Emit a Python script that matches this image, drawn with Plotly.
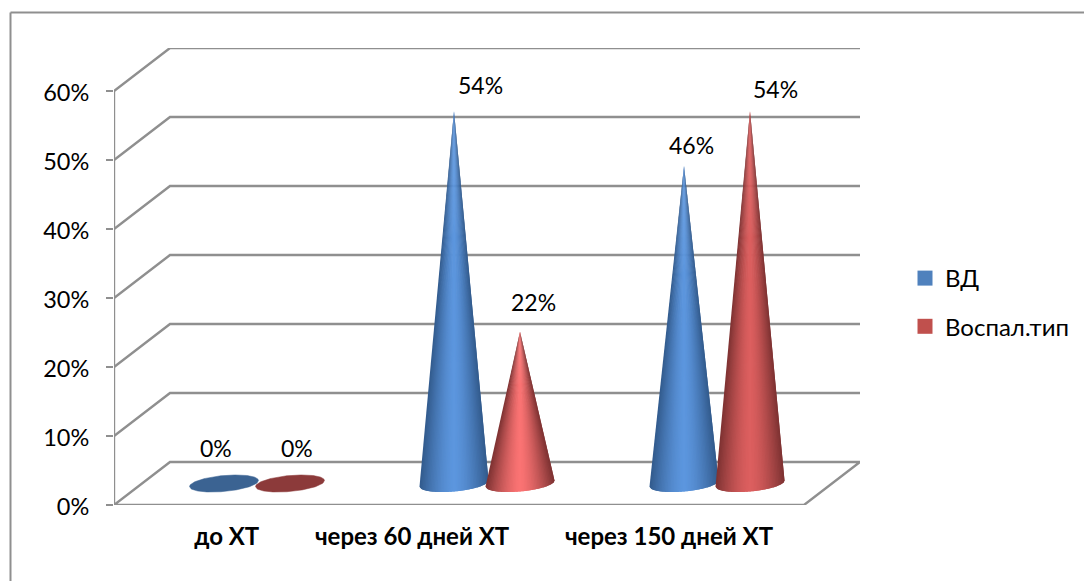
import plotly.graph_objects as go

categories = ["до ХТ", "через 60 дней ХТ", "через 150 дней ХТ"]
series_names = ["ВД", "Воспал.тип"]
vd_values = [0, 54, 46]
vosp_values = [0, 22, 54]
y_ticks = [0, 10, 20, 30, 40, 50, 60]

FONT = "Lato, Carlito, 'Noto Sans', sans-serif"
GRID = "#8f8f8f"
W, H = 1084, 581
L, R, T, B = 114, 860, 48, 505
PX_X = 230.0
PX_Y = 6.9
X_MIN = -0.5
X_MAX = X_MIN + (R - L) / PX_X
Y_MAX = (B - T) / PX_Y
X_FRONT_END = 2.5
DX = 56 / PX_X
DV = 43 / PX_Y
SERIES_OFF = 33 / PX_X
A = 34.5 / PX_X
BB = 8 / PX_Y
TILT = 3 / PX_Y
TICK_LABEL_X = [-0.01, 0.796, 1.913]
STYLE = {
    0: dict(edge=(50, 90, 140), mid=(92, 150, 222), flat="#3b6392", legend="#4f81bd"),
    1: dict(edge=(125, 50, 50), mid=(220, 95, 95), flat="#8c3a3a", legend="#c0504d"),
}
SHORT_RED_MID = (250, 115, 115)
LABEL_SHIFT = {
    (0, 0): (-8, 36), (0, 1): (7, 36), (1, 0): (26, 26), (1, 1): (13, 30),
    (2, 0): (7, 21), (2, 1): (25, 22),
}

fig = go.Figure()

def line(xs, ys):
    fig.add_trace(go.Scatter(x=xs, y=ys, mode="lines", line=dict(color=GRID, width=2.4),
                             cliponaxis=False, hoverinfo="skip", showlegend=False))

# walls and floor
for v in y_ticks[1:]:
    line([X_MIN, X_MIN + DX, X_MAX], [v, v + DV, v + DV])
line([X_MIN, X_MIN], [0, 60])
line([X_MIN, X_MIN + DX, X_MAX, X_FRONT_END, X_MIN], [0, DV, DV, 0, 0])

def lerp(c1, c2, f):
    return "rgb(%d,%d,%d)" % tuple(round(a + (b - a) * f) for a, b in zip(c1, c2))

N = 46
def cone(cat, ser, value):
    cx = cat + (2 * ser - 1) * SERIES_OFF + DX / 2
    cv = DV / 2
    st = STYLE[ser]
    if value == 0:
        xs, ys = [], []
        for i in range(N * 2 + 1):
            u = -1 + 2 * i / (N * 2)
            xs.append(cx + A * u)
            ys.append(cv + TILT * u - BB * (1 - u * u) ** 0.5)
        for i in range(N * 2 + 1):
            u = 1 - 2 * i / (N * 2)
            xs.append(cx + A * u)
            ys.append(cv + TILT * u + BB * (1 - u * u) ** 0.5)
        fig.add_trace(go.Scatter(x=xs, y=ys, mode="lines", fill="toself", fillcolor=st["flat"],
                                 line=dict(color=st["flat"], width=0.5), hoverinfo="skip", showlegend=False))
        return
    mid = SHORT_RED_MID if ser == 1 and value < 30 else st["mid"]
    ax, av = cx, value + cv
    for i in range(N):
        u0 = -1 + 2 * i / N
        u1 = min(1.0, -1 + 2 * (i + 2) / N)
        uc = -1 + 2 * (i + 0.5) / N
        col = lerp(mid, st["edge"], abs(uc) ** 1.5)
        us = [u0 + (u1 - u0) * k / 4 for k in range(5)]
        xs = [ax] + [cx + A * u for u in us] + [ax]
        ys = [av] + [cv + TILT * u - BB * max(0.0, 1 - u * u) ** 0.5 for u in us] + [av]
        fig.add_trace(go.Scatter(
            x=xs, y=ys,
            mode="lines", fill="toself", fillcolor=col, line=dict(width=0),
            hoverinfo="skip", showlegend=False))

for ser, vals in enumerate([vd_values, vosp_values]):
    for cat, v in enumerate(vals):
        cone(cat, ser, v)

# legend entries
for ser, name in enumerate(series_names):
    fig.add_trace(go.Scatter(x=[None], y=[None], mode="markers", name=name, legendgroup=name,
                             marker=dict(symbol="square", size=15, color=STYLE[ser]["legend"])))

# data labels
annots = []
for ser, vals in enumerate([vd_values, vosp_values]):
    for cat, v in enumerate(vals):
        dx, dy = LABEL_SHIFT[(cat, ser)]
        annots.append(dict(x=cat + (2 * ser - 1) * SERIES_OFF + DX / 2, y=v + DV / 2, xref="x", yref="y",
                           text=f"{v}%", showarrow=False, xshift=dx, yshift=dy,
                           font=dict(family=FONT, size=23, color="#000000")))

fx0 = (10.5 - L) / (R - L)
fy1 = (B - 12.5) / (B - T)
fig.update_layout(
    width=W, height=H, margin=dict(l=L, r=W - R, t=T, b=H - B, autoexpand=False),
    paper_bgcolor="white", plot_bgcolor="white",
    font=dict(family=FONT, color="#000000"),
    annotations=annots,
    shapes=[dict(type="line", xref="paper", yref="paper", x0=fx0, x1=fx0, y0=(B - 590) / (B - T), y1=fy1,
                 line=dict(color=GRID, width=2)),
            dict(type="line", xref="paper", yref="paper", x0=fx0, x1=(1090 - L) / (R - L), y0=fy1, y1=fy1,
                 line=dict(color=GRID, width=2))],
    legend=dict(x=(905 - L) / (R - L), y=(B - 256) / (B - T), xanchor="left", yanchor="top",
                tracegroupgap=14, font=dict(family=FONT, size=24), bgcolor="rgba(0,0,0,0)", itemwidth=30),
    xaxis=dict(range=[X_MIN, X_MAX], tickmode="array", tickvals=TICK_LABEL_X, ticktext=categories,
               showgrid=False, zeroline=False, showline=False, ticks="", ticklabelstandoff=15,
               tickfont=dict(family=FONT, size=24, weight="bold", color="#000000"), tickangle=0),
    yaxis=dict(range=[0, Y_MAX], tickmode="array", tickvals=y_ticks, ticktext=[f"{v}%" for v in y_ticks],
               showgrid=False, zeroline=False, showline=False, ticks="outside", ticklen=7, tickcolor=GRID, tickwidth=2,
               ticklabelstandoff=12, ticklabelshift=2, tickfont=dict(family=FONT, size=23.5, color="#000000")),
)
fig.write_html("out.html", config={"displayModeBar": False}, post_script="document.body.style.margin='0';")
